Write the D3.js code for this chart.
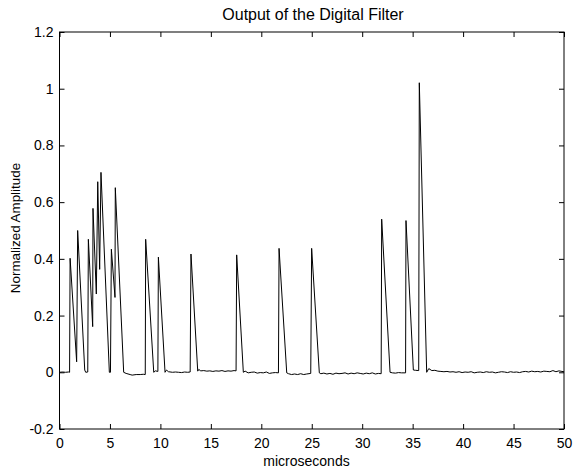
<!DOCTYPE html>
<html>
<head>
<meta charset="utf-8">
<script src="https://cdn.jsdelivr.net/npm/d3@7"></script>
<style>
  html, body { margin: 0; padding: 0; background: #fff; }
  svg { display: block; font-family: "Liberation Sans", Arial, sans-serif; }
</style>
</head>
<body>
<svg id="chart" width="573" height="471"></svg>
<script>
// ---- data ----
const chartTitle = "Output of the Digital Filter";
const xLabel = "microseconds";
const yLabel = "Normalized Amplitude";
const xTicks = [0, 5, 10, 15, 20, 25, 30, 35, 40, 45, 50];
const yTicks = [-0.2, 0, 0.2, 0.4, 0.6, 0.8, 1, 1.2];

const times = [
  0, 0.3, 0.6, 0.9, 1.0, 1.05, 1.70, 1.80, 2.50, 2.6, 2.8, 2.86, 3.29, 3.32, 3.65, 3.79, 3.98, 4.11,
  4.94, 5.05, 5.14, 5.50, 5.53, 6.36, 6.6, 7.0, 7.2, 7.6, 8.0, 8.3, 8.5, 8.54, 9.34, 9.5, 9.75,
  9.80, 10.46, 10.6, 10.8, 11.2, 11.5, 11.8, 12.1, 12.4, 12.7, 12.95, 13.03, 13.70, 13.8, 14.0,
  14.3, 14.6, 14.9, 15.2, 15.5, 15.8, 16.1, 16.4, 16.7, 17.0, 17.3, 17.5, 17.56, 18.22, 18.4,
  18.7, 19.0, 19.3, 19.6, 19.9, 20.2, 20.5, 20.8, 21.1, 21.4, 21.7, 21.76, 22.52, 22.7, 23.0,
  23.3, 23.6, 23.9, 24.2, 24.5, 24.9, 24.99, 25.75, 25.9, 26.2, 26.5, 26.8, 27.1, 27.4, 27.7,
  28.0, 28.3, 28.6, 28.9, 29.2, 29.5, 29.8, 30.1, 30.4, 30.7, 31.0, 31.3, 31.6, 31.88, 31.93,
  32.76, 33.0, 33.3, 33.6, 33.9, 34.3, 34.34, 35.07, 35.3, 35.6, 35.66, 36.39, 36.6, 36.9,
  37.2, 37.5, 37.8, 38.1, 38.4, 38.7, 39.0, 39.3, 39.6, 39.9, 40.2, 40.5, 40.8, 41.1, 41.4,
  41.7, 42.0, 42.3, 42.6, 42.9, 43.2, 43.5, 43.8, 44.1, 44.4, 44.7, 45.0, 45.3, 45.6, 45.9,
  46.2, 46.5, 46.8, 47.1, 47.4, 47.7, 48.0, 48.3, 48.6, 48.9, 49.2, 49.5, 49.8, 50
];
const amplitudes = [
  0, 0.001, 0, 0.001, 0, 0.402, 0.037, 0.500, 0.008, 0, 0.001, 0.469, 0.161, 0.578, 0.276, 0.672, 0.363, 0.705,
  0, 0, 0.434, 0.264, 0.651, 0, -0.004, -0.008, -0.010, -0.008, -0.008, -0.007, -0.008, 0.469, 0, 0.005, 0.003,
  0.406, 0, 0.008, 0.002, 0, 0.001, 0, -0.001, 0.001, 0, 0.001, 0.417, 0.004, 0.010, 0.005,
  0.006, 0.004, 0.005, 0.003, 0.005, 0.004, 0.006, 0.003, 0.005, 0.004, 0.006, 0.005, 0.414, 0, 0.004,
  -0.002, 0, 0.001, -0.003, -0.001, -0.002, 0.001, -0.004, -0.002, -0.001, -0.002, 0.437, -0.002, -0.005, -0.008,
  -0.006, -0.008, -0.005, -0.008, -0.006, -0.004, 0.437, -0.002, -0.005, -0.003, -0.006, -0.004, -0.007, -0.003, -0.005,
  -0.004, -0.002, -0.006, -0.003, -0.005, -0.002, -0.004, -0.006, -0.003, -0.005, -0.002, -0.006, -0.004, -0.005, 0.540,
  0, -0.002, -0.003, -0.001, -0.002, -0.002, 0.535, 0.008, 0.007, 0.006, 1.021, 0, 0.013, 0.006,
  0.007, 0.004, 0.003, 0.002, 0.003, 0.001, 0.002, 0.0, 0.002, -0.001, 0.001, 0.0, 0.002, -0.002, 0.0,
  0.001, -0.001, 0.002, 0.0, 0.001, -0.002, 0.0, 0.002, 0.001, -0.001, 0.002, 0.0, 0.001, -0.001, 0.002,
  0.003, 0.001, 0.004, 0.002, 0.003, 0.001, 0.004, 0.003, 0.002, 0.006, 0.002, 0.005, 0.003, 0.002
];

// ---- layout ----
const svg = d3.select("#chart");
const mLeft = 59.5, mRight = 564, mTop = 32, mBottom = 429;
const x = d3.scaleLinear().domain([0, 50]).range([mLeft, mRight]);
const y = d3.scaleLinear().domain([-0.2, 1.2]).range([mBottom, mTop]);
const fmt = d => String(+d.toFixed(1));
const tickFont = "14px";

// axes with inward ticks
const gx = svg.append("g").attr("transform", `translate(0,${mBottom})`)
  .call(d3.axisBottom(x).tickValues(xTicks).tickFormat(fmt).tickSizeInner(-5).tickSizeOuter(0).tickPadding(9));
const gxt = svg.append("g").attr("transform", `translate(0,${mTop})`)
  .call(d3.axisTop(x).tickValues(xTicks).tickFormat("").tickSizeInner(-5).tickSizeOuter(0));
const gy = svg.append("g").attr("transform", `translate(${mLeft},0)`)
  .call(d3.axisLeft(y).tickValues(yTicks).tickFormat(fmt).tickSizeInner(-5).tickSizeOuter(0).tickPadding(6));
const gyr = svg.append("g").attr("transform", `translate(${mRight},0)`)
  .call(d3.axisRight(y).tickValues(yTicks).tickFormat("").tickSizeInner(-5).tickSizeOuter(0));

[gx, gxt, gy, gyr].forEach(g => {
  g.select(".domain").remove();
  g.selectAll("line").attr("stroke", "#000").attr("stroke-width", 1);
  g.selectAll("text").attr("fill", "#000").style("font-size", tickFont)
    .style("font-family", "'Liberation Sans', Arial, sans-serif");
});

// frame
svg.append("rect")
  .attr("x", mLeft).attr("y", mTop)
  .attr("width", mRight - mLeft).attr("height", mBottom - mTop)
  .attr("fill", "none").attr("stroke", "#000").attr("stroke-width", 1);

// signal line
const pts = times.map((t, i) => [t, amplitudes[i]]);
svg.append("path")
  .datum(pts)
  .attr("fill", "none")
  .attr("stroke", "#000")
  .attr("stroke-width", 1)
  .attr("stroke-linejoin", "miter")
  .attr("d", d3.line().x(d => x(d[0])).y(d => y(d[1])));

// title and labels
svg.append("text")
  .attr("x", 313).attr("y", 19.7)
  .attr("text-anchor", "middle").style("font-size", "16px").attr("fill", "#000")
  .text(chartTitle);
svg.append("text")
  .attr("x", 306.5).attr("y", 466.3)
  .attr("text-anchor", "middle").style("font-size", "14px").attr("fill", "#000")
  .text(xLabel);
svg.append("text")
  .attr("transform", `translate(19.8,228) rotate(-90)`)
  .attr("text-anchor", "middle").style("font-size", "13.4px").attr("fill", "#000")
  .text(yLabel);
</script>
</body>
</html>
